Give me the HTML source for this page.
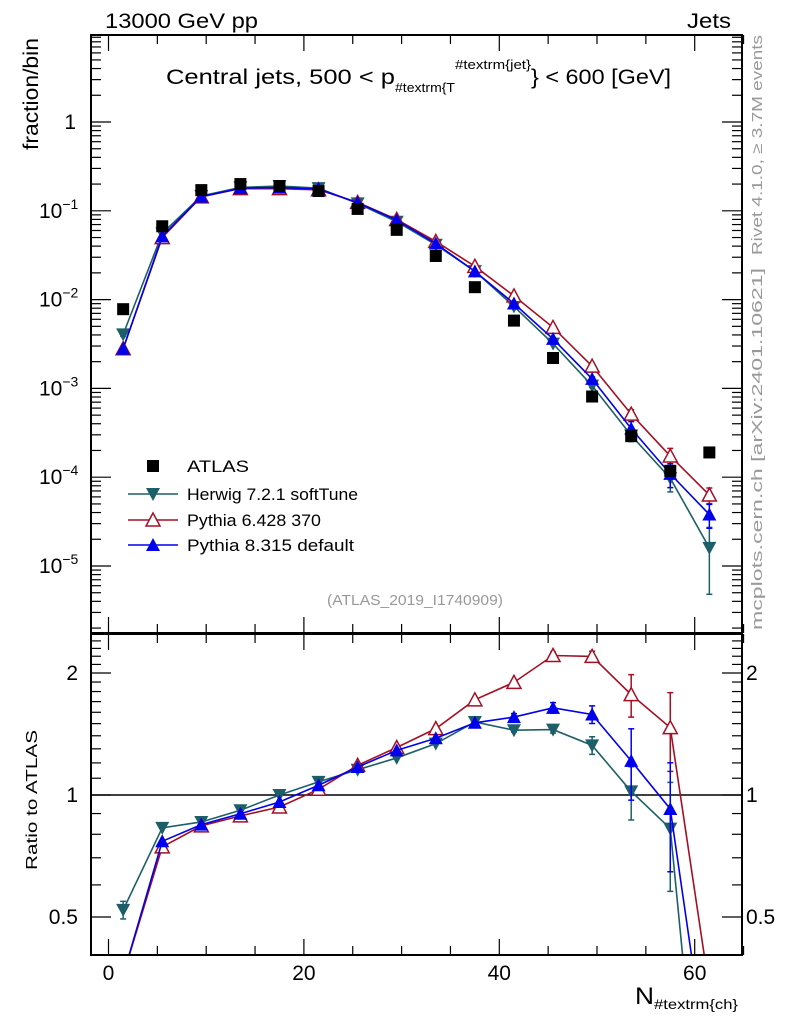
<!DOCTYPE html>
<html><head><meta charset="utf-8"><style>
html,body{margin:0;padding:0;background:#fff;overflow:hidden;width:786px;height:1024px;}
svg{display:block;font-family:"Liberation Sans",sans-serif;}
</style></head><body>
<svg id="chart" width="786" height="1024" viewBox="0 0 786 1024" xmlns="http://www.w3.org/2000/svg">
<defs>
<clipPath id="clipMain"><rect x="91" y="35" width="650" height="598"/></clipPath>
<clipPath id="clipRatio"><rect x="91" y="634" width="650" height="320"/></clipPath>
</defs>
<text x="105" y="28" font-size="21" textLength="153" lengthAdjust="spacingAndGlyphs">13000 GeV pp</text>
<text x="687" y="28" font-size="21" textLength="44" lengthAdjust="spacingAndGlyphs">Jets</text>
<text font-size="21">
<tspan x="166" y="84" textLength="229" lengthAdjust="spacingAndGlyphs">Central jets, 500 &lt; p</tspan><tspan x="395" y="92" font-size="13" textLength="60" lengthAdjust="spacingAndGlyphs">#textrm{T</tspan><tspan x="455" y="69" font-size="13" textLength="76" lengthAdjust="spacingAndGlyphs">#textrm{jet}</tspan><tspan x="531" y="84" textLength="140" lengthAdjust="spacingAndGlyphs">} &lt; 600 [GeV]</tspan></text>
<text transform="translate(38,150) rotate(-90)" font-size="21" textLength="112" lengthAdjust="spacingAndGlyphs">fraction/bin</text>
<text transform="translate(37,870) rotate(-90)" font-size="16" textLength="140" lengthAdjust="spacingAndGlyphs">Ratio to ATLAS</text>
<text font-size="24"><tspan x="635" y="1004" textLength="19" lengthAdjust="spacingAndGlyphs">N</tspan><tspan x="654" y="1009" font-size="14" textLength="84" lengthAdjust="spacingAndGlyphs">#textrm{ch}</tspan></text>
<text transform="translate(762,255) rotate(-90)" font-size="15" fill="#999" textLength="220" lengthAdjust="spacingAndGlyphs">Rivet 4.1.0, ≥ 3.7M events</text>
<text transform="translate(762,630) rotate(-90)" font-size="15" fill="#999" textLength="362" lengthAdjust="spacingAndGlyphs">mcplots.cern.ch [arXiv:2401.10621]</text>
<text x="327" y="605" font-size="15" fill="#999" textLength="176" lengthAdjust="spacingAndGlyphs">(ATLAS_2019_I1740909)</text>
<g id="axes"></g>
<g id="mainMarks" clip-path="url(#clipMain)"></g>
<g id="ratioMarks" clip-path="url(#clipRatio)"></g>
<g id="legend"></g>
</svg>
<script>
const xCenters = [1.5,5.5,9.5,13.5,17.5,21.5,25.5,29.5,33.5,37.5,41.5,45.5,49.5,53.5,57.5,61.5];
const atlasValues = [0.0078,0.067,0.171,0.20,0.19,0.167,0.105,0.061,0.031,0.0138,0.0058,0.0022,0.00081,0.00029,0.000118,0.00019];
const herwigValues = [0.00406,0.0556,0.1467,0.1834,0.19,0.1799,0.1212,0.0753,0.0415,0.0209,0.00838,0.00319,0.001074,0.000296,0.0000975,0.000016];
const pythia6Values = [0.0028,0.0499,0.1435,0.1776,0.1775,0.1725,0.1243,0.0799,0.0452,0.0237,0.0110,0.00486,0.00178,0.000513,0.000173,0.000063];
const pythia8Values = [0.0028,0.0515,0.1445,0.1798,0.1826,0.1765,0.1231,0.0786,0.0428,0.0208,0.00903,0.00361,0.00128,0.000352,0.000109,0.000038];
const herwigRelErr = [0.05,0,0,0,0,0,0,0,0,0,0.01,0.02,0.05,0.15,0.3,0.7];
const pythia6RelErr = [0,0,0,0,0,0,0,0,0,0,0.01,0.02,0.03,0.12,0.22,0.2];
const pythia8RelErr = [0,0,0,0,0,0,0,0,0,0,0.02,0.03,0.05,0.2,0.3,0.3];
const xTicks = [0,20,40,60];
const ratioTicks = [0.5,1,2];
const mainDecades = [-5,-4,-3,-2,-1,0];

const NS = "http://www.w3.org/2000/svg";
const X0 = 91, X1 = 742, MT = 35, MB = 633, RT = 634, RB = 955;
function sx(v){ return 108.5 + v*9.77; }
function sy(v){ return 122 - 88.8*Math.log10(v); }
function ry(r){ return 795 - 122*Math.log2(r); }
function mk(tag, attrs, parent){
  const e = document.createElementNS(NS, tag);
  for (const k in attrs) e.setAttribute(k, attrs[k]);
  parent.appendChild(e); return e;
}
const axes = document.getElementById('axes');
const mainG = document.getElementById('mainMarks');
const ratioG = document.getElementById('ratioMarks');
const legG = document.getElementById('legend');

let f1 = mk('rect',{x:X0,y:MT,width:X1-X0,height:MB-MT,fill:'none',stroke:'#000','stroke-width':2},axes);


let f2 = mk('rect',{x:X0,y:RT,width:X1-X0,height:RB-RT,fill:'none',stroke:'#000','stroke-width':2},axes);



for (let v=0; v<=65; v+=5){
  const major = v%20===0, len = major?16:9, x = sx(v);
  for (const [yb,dir] of [[MB,-1],[MT,1],[RB,-1],[RT,1]]){
    mk('line',{x1:x,x2:x,y1:yb,y2:yb+dir*len,stroke:'#000','stroke-width':1.2},axes);
  }
}
xTicks.forEach(v=>{
  const t = mk('text',{x:sx(v),y:980,'font-size':21,'text-anchor':'middle'},axes);
  t.textContent = v;
  
  
});
for (let d=-6; d<=0; d++){
  for (let m=1; m<=9; m++){
    const v = m*Math.pow(10,d), y = sy(v);
    if (y<MT||y>MB) continue;
    const len = m===1?20:10;
    mk('line',{x1:X0,x2:X0+len,y1:y,y2:y,stroke:'#000','stroke-width':1.2},axes);
    mk('line',{x1:X1,x2:X1-len,y1:y,y2:y,stroke:'#000','stroke-width':1.2},axes);
  }
}
mainDecades.forEach(d=>{
  const y = sy(Math.pow(10,d));
  const t = mk('text',{x:76,y:y+7,'font-size':21,'text-anchor':'end'},axes);
  if (d===0) t.textContent='1';
  else { t.textContent='10'; const s = mk('tspan',{dy:-9,'font-size':14},t); s.textContent=String(d).replace('-','−'); t.setAttribute('text-anchor','start'); t.setAttribute('x',39);}
  
  
});
for (let r=0.4; r<=2.55; r+=0.1){
  const y = ry(r); if (y<RT||y>RB) continue;
  const major = Math.abs(r-0.5)<1e-6||Math.abs(r-1)<1e-6||Math.abs(r-2)<1e-6;
  const len = major?20:10;
  mk('line',{x1:X0,x2:X0+len,y1:y,y2:y,stroke:'#000','stroke-width':1.2},axes);
  mk('line',{x1:X1,x2:X1-len,y1:y,y2:y,stroke:'#000','stroke-width':1.2},axes);
}
ratioTicks.forEach(r=>{
  const y = ry(r);
  for (const [x,anc] of [[78,'end'],[746,'start']]){
    const t = mk('text',{x:x,y:y+7,'font-size':21,'text-anchor':anc},axes);
    t.textContent = r;
    
    
  }
});
mk('line',{x1:X0,x2:X1,y1:ry(1),y2:ry(1),stroke:'#000','stroke-width':1.5},ratioG);

function marker(g, type, color, x, y){
  let e;
  if (type==='square') e = mk('rect',{x:x-6,y:y-6,width:12,height:12,fill:'#000'},g);
  else if (type==='down') e = mk('polygon',{points:`${x-7},${y-6} ${x+7},${y-6} ${x},${y+7}`,fill:color},g);
  else if (type==='up') e = mk('polygon',{points:`${x-7},${y+6} ${x+7},${y+6} ${x},${y-7}`,fill:color},g);
  else e = mk('polygon',{points:`${x-7},${y+6} ${x+7},${y+6} ${x},${y-7}`,fill:'#fff',stroke:color,'stroke-width':1.5},g);
  return e;
}
const series = [
  {name:'herwig',vals:herwigValues,err:herwigRelErr,color:'#1d5f68',type:'down'},
  {name:'pythia6',vals:pythia6Values,err:pythia6RelErr,color:'#a50f24',type:'open'},
  {name:'pythia8',vals:pythia8Values,err:pythia8RelErr,color:'#0000ee',type:'up'}
];
series.forEach(s=>{
  const ptsM = xCenters.map((x,i)=>sx(x)+','+sy(s.vals[i])).join(' ');
  const l1 = mk('polyline',{points:ptsM,fill:'none',stroke:s.color,'stroke-width':1.6},mainG);
  
  
  const ratios = s.vals.map((v,i)=>v/atlasValues[i]);
  const ptsR = xCenters.map((x,i)=>sx(x)+','+ry(ratios[i])).join(' ');
  const l2 = mk('polyline',{points:ptsR,fill:'none',stroke:s.color,'stroke-width':1.6},ratioG);
  
  
  xCenters.forEach((x,i)=>{
    const e = s.err[i];
    if (e>0){
      const v=s.vals[i], r=ratios[i], X=sx(x);
      const ya=sy(v*(1+e)), yb=sy(Math.max(v*(1-e),1e-9));
      mk('line',{x1:X,x2:X,y1:ya,y2:yb,stroke:s.color,'stroke-width':1.5},mainG);
      mk('line',{x1:X-3,x2:X+3,y1:ya,y2:ya,stroke:s.color,'stroke-width':1.5},mainG);
      mk('line',{x1:X-3,x2:X+3,y1:yb,y2:yb,stroke:s.color,'stroke-width':1.5},mainG);
      const ra=ry(r*(1+e)), rb=ry(Math.max(r*(1-e),1e-3));
      mk('line',{x1:X,x2:X,y1:ra,y2:rb,stroke:s.color,'stroke-width':1.5},ratioG);
      mk('line',{x1:X-3,x2:X+3,y1:ra,y2:ra,stroke:s.color,'stroke-width':1.5},ratioG);
      mk('line',{x1:X-3,x2:X+3,y1:rb,y2:rb,stroke:s.color,'stroke-width':1.5},ratioG);
    }
  });
  xCenters.forEach((x,i)=>{
    const m = marker(mainG, s.type, s.color, sx(x), sy(s.vals[i]));
    
    
    const m2 = marker(ratioG, s.type, s.color, sx(x), ry(ratios[i]));
    
    
  });
});
xCenters.forEach((x,i)=>{
  const m = marker(mainG,'square','#000',sx(x),sy(atlasValues[i]));
  
  
});
const legItems = [
  {label:'ATLAS',type:'square',color:'#000',y:466,w:62},
  {label:'Herwig 7.2.1 softTune',type:'down',color:'#1d5f68',y:494,w:171},
  {label:'Pythia 6.428 370',type:'open',color:'#a50f24',y:520,w:134},
  {label:'Pythia 8.315 default',type:'up',color:'#0000ee',y:545,w:167}
];
legItems.forEach(it=>{
  const g = mk('g',{},legG);
  
  
  if (it.type!=='square') mk('line',{x1:128,x2:178,y1:it.y,y2:it.y,stroke:it.color,'stroke-width':1.6},g);
  marker(g,it.type,it.color,153,it.y);
  const t = mk('text',{x:187,y:it.y+6,'font-size':17,textLength:it.w,lengthAdjust:'spacingAndGlyphs'},g);
  t.textContent = it.label;
});
</script>
</body></html>
